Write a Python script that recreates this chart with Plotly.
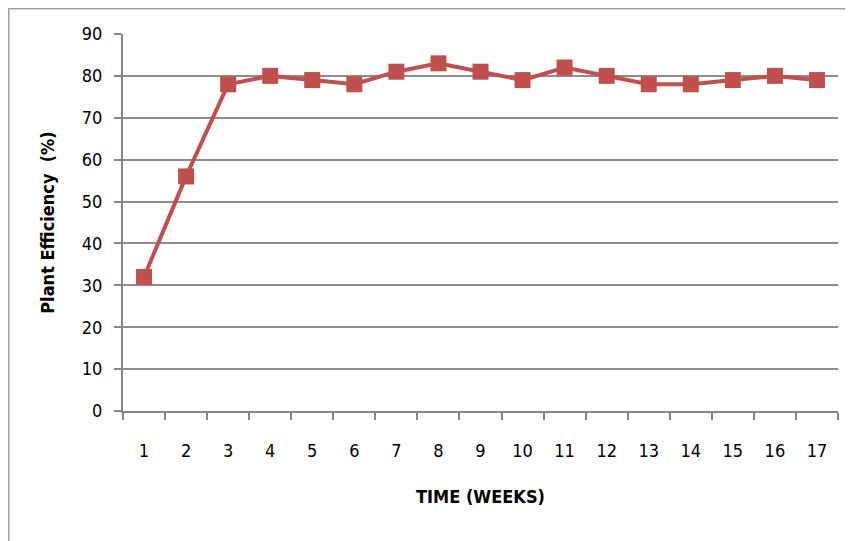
import plotly.graph_objects as go

weeks = list(range(1, 18))
efficiency = [32, 56, 78, 80, 79, 78, 81, 83, 81, 79, 82, 80, 78, 78, 79, 80, 79]
y_ticks = [0, 10, 20, 30, 40, 50, 60, 70, 80, 90]

OFF = 8  # default browser body margin
W, H = 853 - OFF, 541 - OFF
L, R, T, B = 115, 15, 26, 130
pw, ph = W - L - R, H - T - B

def px_x(p):
    return (p - OFF - L) / pw

def px_y(p):
    return (H - B - (p - OFF)) / ph

FONT = "DejaVu Sans Condensed, Liberation Sans Narrow, sans-serif"

fig = go.Figure()
fig.add_trace(go.Scatter(
    x=weeks, y=efficiency, mode="lines+markers",
    line=dict(color="#C0504D", width=4),
    marker=dict(symbol="square", size=16, color="#C0504D"),
    showlegend=False,
))

fig.update_layout(
    width=W, height=H,
    margin=dict(l=L, r=R, t=T, b=B),
    paper_bgcolor="white", plot_bgcolor="white",
    font=dict(family=FONT, size=18, color="#000000"),
    xaxis=dict(
        range=[0.5, 17.5], tickvals=weeks, ticktext=[str(w) for w in weeks],
        ticks="", showgrid=False, zeroline=False, automargin=False,
        showline=True, linecolor="#868686", linewidth=2,
        ticklabelstandoff=22,
        minor=dict(tickvals=[w + 0.5 for w in range(0, 18)], ticks="outside",
                   ticklen=7, tickcolor="#868686", tickwidth=1.5, showgrid=False),
        title=dict(text="<b>TIME (WEEKS)</b>", font=dict(size=18, family=FONT), standoff=31),
        fixedrange=True,
    ),
    yaxis=dict(
        range=[0, 90], tickvals=y_ticks, ticks="outside", ticklen=7,
        tickcolor="#868686", tickwidth=1.5,
        showgrid=True, gridcolor="#8C8C8C", gridwidth=1.5,
        zeroline=False, showline=True, linecolor="#868686", linewidth=2,
        ticklabelstandoff=8, automargin=False,
        title=dict(text="<b>Plant Efficiency  (%)</b>", font=dict(size=18, family=FONT), standoff=22),
        fixedrange=True,
    ),
    shapes=[dict(type="rect", xref="paper", yref="paper",
                 x0=px_x(8.8), x1=px_x(853 + 20), y0=px_y(541 + 20), y1=px_y(8.8),
                 line=dict(color="#A0A0A0", width=1.5), fillcolor="rgba(0,0,0,0)", layer="below")],
)

fig.write_html("out.html")
